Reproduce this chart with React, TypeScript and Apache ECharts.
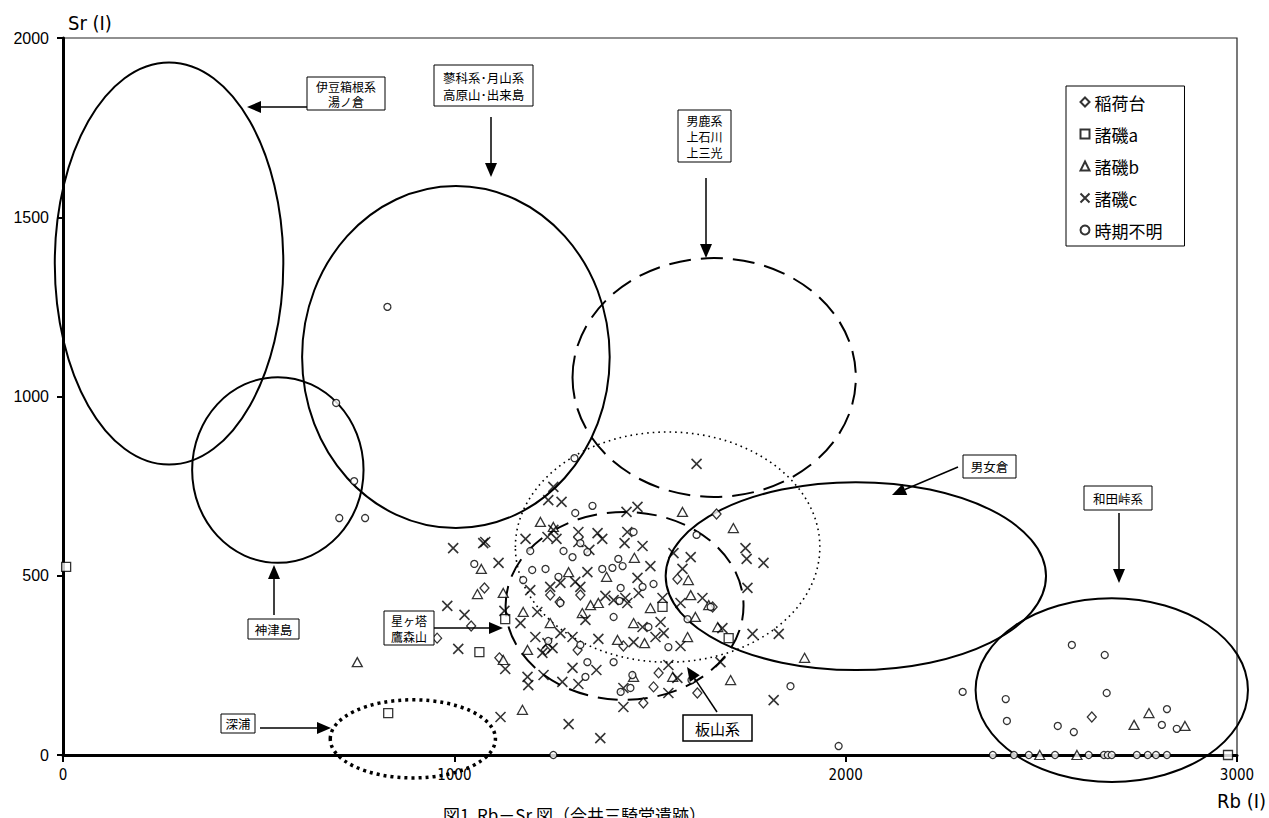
import React, { useEffect, useRef } from "react";
import * as echarts from "echarts";

// ---------- data ----------
const xTicks = [0, 1000, 2000, 3000];
const yTicks = [0, 500, 1000, 1500, 2000];

const seriesNames = ["稲荷台", "諸磯a", "諸磯b", "諸磯c", "時期不明"];

const inaridai: number[][] = [
  [1670, 672], [1570, 491], [1077, 466], [1245, 446], [1269, 427], [1115, 271], [1233, 293],
  [1315, 293], [1432, 304], [1522, 229], [1509, 190], [1621, 173], [1483, 145], [1322, 446],
  [1660, 413], [1043, 360], [956, 326], [2629, 106],
];

const moroisoA: number[][] = [
  [8, 525], [831, 117], [1064, 287], [1130, 379], [1532, 413], [1701, 326], [2977, 0],
];

const moroisoB: number[][] = [
  [1583, 678], [1713, 633], [1220, 650], [1253, 636], [1460, 550], [1389, 497], [1292, 510],
  [1598, 488], [1604, 446], [1650, 418], [1501, 410], [1176, 399], [1245, 368], [1327, 396],
  [1458, 368], [1616, 385], [1673, 357], [1417, 321], [1486, 312], [1348, 418], [1368, 424],
  [1596, 329], [1558, 218], [1706, 209], [1458, 218], [1895, 271], [752, 259], [1069, 519],
  [1059, 449], [1125, 452], [1125, 265], [1174, 126], [1187, 293], [2737, 84], [2775, 117],
  [2867, 81], [2496, 0], [2591, 0],
];

const moroisoC: number[][] = [
  [1253, 748], [1240, 711], [1274, 706], [1468, 692], [1440, 678], [1079, 594], [1182, 603],
  [1238, 608], [1253, 628], [1261, 603], [1317, 622], [1366, 619], [1378, 603], [1442, 622],
  [1435, 591], [1481, 583], [1317, 594], [1345, 572], [1604, 552], [1583, 519], [1560, 563],
  [1501, 527], [1744, 577], [1747, 547], [1790, 536], [1749, 466], [1245, 469], [1194, 460],
  [1271, 480], [1340, 510], [1309, 483], [1322, 469], [1386, 444], [1407, 432], [1437, 438],
  [1468, 494], [1471, 452], [1532, 438], [1578, 424], [1634, 438], [1442, 424], [1335, 377],
  [1212, 399], [1527, 371], [1481, 357], [1535, 340], [1514, 329], [1458, 315], [1685, 354],
  [1762, 338], [1207, 329], [1238, 312], [1225, 285], [1251, 298], [1302, 329], [1368, 324],
  [1271, 340], [1578, 304], [1276, 204], [1302, 243], [1317, 198], [1363, 237], [1432, 187],
  [1547, 173], [1547, 251], [1570, 215], [1680, 259], [1816, 153], [1432, 134], [1619, 812],
  [997, 577], [1074, 591], [1113, 536], [982, 416], [1026, 391], [1010, 296], [1128, 402],
  [1169, 368], [1130, 240], [1187, 218], [1189, 195], [1228, 223], [1118, 106], [1292, 86],
  [1373, 47], [1829, 338],
];

const jikiFumei: number[][] = [
  [829, 1250], [698, 982], [744, 764], [706, 661], [772, 661], [1307, 828], [1982, 25],
  [1859, 192], [2299, 176], [2578, 307], [2662, 279], [2409, 156], [2667, 173], [2412, 95],
  [2542, 81], [2583, 64], [2821, 128], [2808, 84], [2846, 73],
  [2376, 0], [2430, 0], [2468, 0], [2535, 0], [2621, 0], [2660, 0], [2670, 0], [2680, 0],
  [2744, 0], [2772, 0], [2793, 0], [2821, 0], [1253, 0],
  [1353, 695], [1309, 675], [1458, 622], [1322, 591], [1340, 566], [1279, 569], [1302, 552],
  [1194, 569], [1199, 516], [1176, 488], [1233, 519], [1266, 497], [1378, 519], [1404, 522],
  [1419, 547], [1430, 527], [1509, 477], [1481, 469], [1425, 466], [1422, 430], [1407, 385],
  [1496, 357], [1547, 301], [1322, 307], [1271, 424], [1340, 259], [1407, 259], [1619, 614],
  [1655, 413], [1596, 379], [1240, 318], [1335, 218], [1455, 223], [1425, 176], [1450, 187],
  [1606, 209], [1051, 533],
];

// source ellipses: centre and half-axes in data units
const ellipseNames = ["伊豆箱根系", "神津島", "蓼科系", "男鹿系", "板山系", "星ヶ塔", "男女倉", "和田峠系", "深浦"];
const ellipseCx = [271, 549, 1004, 1664, 1545, 1435, 2026, 2680, 894];
const ellipseCy = [1371, 795, 1110, 1053, 580, 416, 499, 181, 45];
const ellipseRx = [292, 219, 393, 362, 389, 304, 486, 348, 211];
const ellipseRy = [561, 259, 477, 333, 321, 262, 262, 256, 109];

// ---------- styles ----------
const ELLIPSE_STYLE: Record<string, any> = {
  伊豆箱根系: { lineWidth: 2 },
  神津島: { lineWidth: 2 },
  蓼科系: { lineWidth: 2 },
  男鹿系: { lineWidth: 2, lineDash: [22, 10] },
  板山系: { lineWidth: 1.6, lineDash: [1.6, 4] },
  星ヶ塔: { lineWidth: 2, lineDash: [20, 10] },
  男女倉: { lineWidth: 2 },
  和田峠系: { lineWidth: 2 },
  深浦: { lineWidth: 3.5, lineDash: [3, 4] },
};

const JP = "'Noto Sans CJK JP', 'Noto Sans', sans-serif";
const NUM = "'Liberation Sans Narrow', 'DejaVu Sans Condensed', 'Liberation Sans', Arial, sans-serif";

function box(x1: number, y1: number, x2: number, y2: number, lines: string[], fs = 12, lh = 15, bw = 1) {
  const cy = (y1 + y2) / 2;
  const start = cy - ((lines.length - 1) * lh) / 2;
  const out: any[] = [
    { type: "rect", shape: { x: x1, y: y1, width: x2 - x1, height: y2 - y1 }, style: { fill: "#fff", stroke: "#000", lineWidth: bw }, z: 10 },
  ];
  lines.forEach((t, i) => {
    out.push({
      type: "text", x: (x1 + x2) / 2, y: start + i * lh, z: 11,
      style: { text: t, fontSize: fs, fontFamily: JP, fill: "#000", textAlign: "center", textVerticalAlign: "middle" },
    });
  });
  return out;
}

function arrow(x1: number, y1: number, x2: number, y2: number, len = 14, half = 6) {
  const dx = x2 - x1, dy = y2 - y1;
  const d = Math.sqrt(dx * dx + dy * dy);
  const ux = dx / d, uy = dy / d;
  const bx = x2 - ux * len, by = y2 - uy * len;
  return [
    { type: "line", shape: { x1, y1, x2: bx, y2: by }, style: { stroke: "#000", lineWidth: 1.5 }, z: 10 },
    { type: "polygon", shape: { points: [[x2, y2], [bx - uy * half, by + ux * half], [bx + uy * half, by - ux * half]] }, style: { fill: "#000" }, z: 10 },
  ];
}

export default function App() {
  const ref = useRef<HTMLDivElement>(null);
  useEffect(() => {
    if (!ref.current) return;
    const chart = echarts.init(ref.current, null, { renderer: "svg" });

    const hollow = { color: "#fff", borderColor: "#000", borderWidth: 1.3 };
    const ellipseData = ellipseNames.map((n, i) => ({ name: n, value: [ellipseCx[i], ellipseCy[i], ellipseRx[i], ellipseRy[i]] }));

    const graphics: any[] = [
      { type: "text", x: 68, y: 23, style: { text: "Sr (I)", fontSize: 20, fontFamily: NUM, fill: "#000", textVerticalAlign: "middle" } },
      { type: "text", x: 1266, y: 801, style: { text: "Rb (I)", fontSize: 20, fontFamily: NUM, fill: "#000", textAlign: "right", textVerticalAlign: "middle" } },
      { type: "text", x: 443, y: 806, style: { text: "図1  Rb－Sr 図（今井三騎堂遺跡）", fontSize: 17, fontFamily: JP, fill: "#000", textVerticalAlign: "top" } },
      ...box(307, 77, 385, 110, ["伊豆箱根系", "湯ノ倉"], 12, 15),
      ...arrow(307, 107, 247, 107),
      ...box(434, 65, 533, 106, ["蓼科系･月山系", "高原山･出来島"], 12.5, 17),
      ...arrow(491, 117, 491, 177),
      ...box(678, 110, 731, 162, ["男鹿系", "上石川", "上三光"], 12, 16),
      ...arrow(706, 178, 706, 258),
      ...box(963, 455, 1016, 478, ["男女倉"], 12.5, 15),
      ...arrow(958, 467, 892, 495),
      ...box(1084, 486, 1152, 510, ["和田峠系"], 12.5, 15),
      ...arrow(1119, 513, 1119, 583),
      ...box(248, 619, 299, 639, ["神津島"], 12.5, 15),
      ...arrow(274, 615, 274, 565),
      ...box(384, 611, 434, 645, ["星ヶ塔", "鷹森山"], 12, 16),
      ...arrow(434, 628, 503, 628),
      ...box(221, 714, 255, 733, ["深浦"], 12.5, 15),
      ...arrow(260, 728, 331, 728),
      ...box(683, 715, 752, 741, ["板山系"], 15, 18, 1.5),
      ...arrow(717, 712, 687, 667),
    ];

    chart.setOption({
      animation: false,
      backgroundColor: "#fff",
      grid: { left: 63, right: 32, top: 38, bottom: 63, containLabel: false, show: true, borderColor: "#222", borderWidth: 1.2 },
      legend: {
        orient: "vertical",
        left: 1066,
        top: 86,
        data: seriesNames,
        itemWidth: 9,
        itemHeight: 9,
        itemGap: 12,
        padding: [6, 22, 6, 12],
        borderColor: "#000",
        borderWidth: 1,
        backgroundColor: "#fff",
        textStyle: { fontSize: 17, lineHeight: 20, fontFamily: JP, color: "#000" },
      },
      xAxis: {
        type: "value", min: xTicks[0], max: xTicks[xTicks.length - 1], interval: 1000,
        splitLine: { show: false },
        axisLine: { show: true, onZero: false, lineStyle: { color: "#000", width: 3 } },
        axisTick: { show: true, length: 7, lineStyle: { color: "#000", width: 2 } },
        axisLabel: { fontSize: 15, fontFamily: NUM, color: "#000", margin: 12, formatter: (v: number) => String(v) },
      },
      yAxis: {
        type: "value", min: yTicks[0], max: yTicks[yTicks.length - 1], interval: 500,
        splitLine: { show: false },
        axisLine: { show: true, onZero: false, lineStyle: { color: "#000", width: 3 } },
        axisTick: { show: true, length: 6, lineStyle: { color: "#000", width: 2 } },
        axisLabel: { fontSize: 16, fontFamily: "'Liberation Sans', Arial, sans-serif", color: "#000", margin: 14, formatter: (v: number) => String(v) },
      },
      series: [
        {
          type: "custom",
          name: "ellipses",
          clip: false,
          silent: true,
          z: 1,
          data: ellipseData,
          renderItem: (params: any, api: any) => {
            const c = api.coord([api.value(0), api.value(1)]);
            const s = api.size([api.value(2), api.value(3)]);
            const st = ELLIPSE_STYLE[ellipseNames[params.dataIndex]] || {};
            return {
              type: "ellipse",
              shape: { cx: c[0], cy: c[1], rx: s[0], ry: s[1] },
              style: { fill: "none", stroke: "#000", lineWidth: st.lineWidth || 2, lineDash: st.lineDash || null },
            };
          },
        },
        { type: "scatter", name: seriesNames[0], data: inaridai, symbol: "diamond", symbolSize: [9, 10], itemStyle: hollow, z: 3 },
        { type: "scatter", name: seriesNames[1], data: moroisoA, symbol: "rect", symbolSize: 9, itemStyle: hollow, z: 3 },
        { type: "scatter", name: seriesNames[2], data: moroisoB, symbol: "triangle", symbolSize: [10, 9], itemStyle: hollow, z: 3 },
        { type: "scatter", name: seriesNames[3], data: moroisoC, symbol: "path://M0,0L10,10M10,0L0,10", symbolSize: 10, itemStyle: { color: "none", borderColor: "#000", borderWidth: 1.6 }, z: 3 },
        { type: "scatter", name: seriesNames[4], data: jikiFumei, symbol: "circle", symbolSize: 7, itemStyle: hollow, z: 3 },
      ],
      graphic: graphics,
    });

    return () => chart.dispose();
  }, []);

  return <div ref={ref} style={{ width: 1269, height: 818, position: "absolute", left: 0, top: 0 }} />;
}
